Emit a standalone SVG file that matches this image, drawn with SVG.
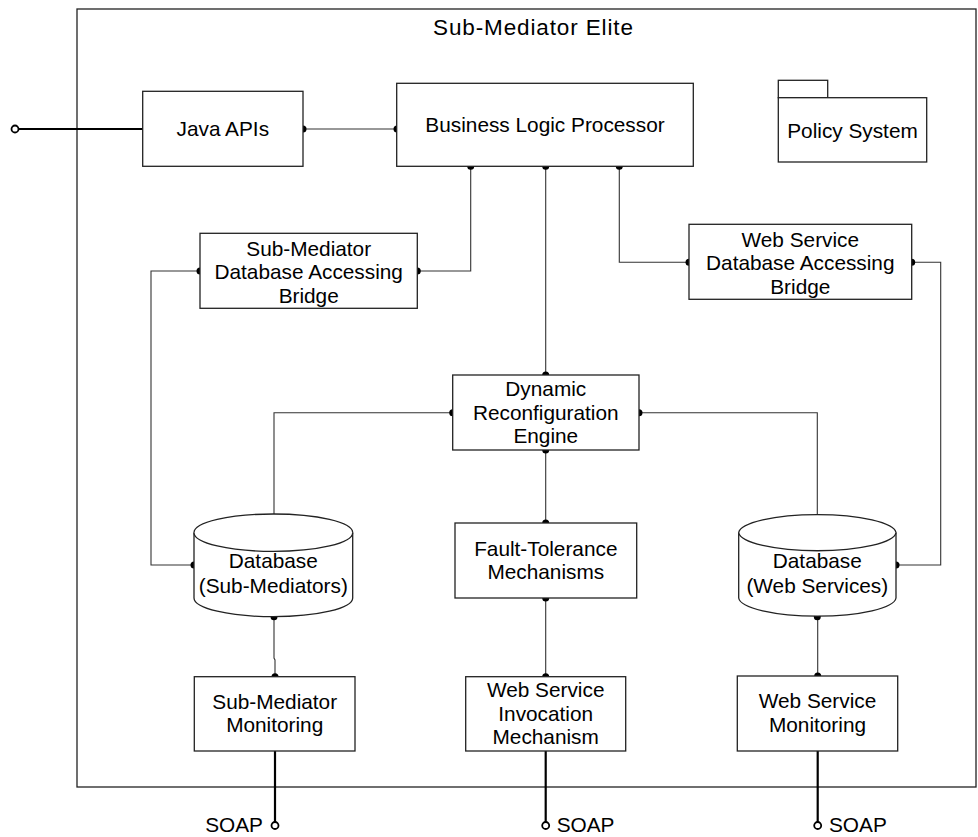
<svg xmlns="http://www.w3.org/2000/svg" width="978" height="837" viewBox="0 0 978 837">
<style>
  text { font-family: "Liberation Sans", Arial, sans-serif; font-size: 20.8px; fill: #000; text-anchor: middle; }
  .box { fill: #fff; stroke: #222; stroke-width: 1.3; }
  .frame { fill: none; stroke: #222; stroke-width: 1.3; }
  .wire { fill: none; stroke: #333; stroke-width: 1.1; }
  .port { fill: none; stroke: #000; stroke-width: 2.2; }
  .dot { fill: #000; }
  .pin { fill: #fff; stroke: #000; stroke-width: 1.8; }
</style>
<rect width="978" height="837" fill="#fff"/>
<g id="frame">
  <rect class="frame" x="77" y="9" width="899" height="778"/>
  <text x="533" y="34.5" style="font-size:22.5px" textLength="200" lengthAdjust="spacing">Sub-Mediator Elite</text>
</g>
<g id="connectors">
  <path class="port" d="M19 129 H143"/>
  <path class="wire" d="M303 129 H397"/>
  <path class="wire" d="M417.3 271 H470.7 V166.3"/>
  <path class="wire" d="M200 271 H151 V565 H194"/>
  <path class="wire" d="M619.3 166.3 V262.3 H689"/>
  <path class="wire" d="M911.7 262.3 H940.7 V565 H896"/>
  <path class="wire" d="M545.7 166.3 V375"/>
  <path class="wire" d="M452.7 412.7 H274 V532.7"/>
  <path class="wire" d="M639 412.7 H817.3 V532.7"/>
  <path class="wire" d="M545.7 450 V523"/>
  <path class="wire" d="M545.7 598 V676.7"/>
  <path class="wire" d="M274 616.7 V658 L275 660 V676.7"/>
  <path class="wire" d="M817.7 616.7 V676"/>
  <path class="port" d="M275 751 V822"/>
  <path class="port" d="M545.7 751 V822"/>
  <path class="port" d="M817.7 751 V822"/>
  <circle class="pin" cx="15" cy="129" r="3.5"/>
  <circle class="pin" cx="275" cy="825.5" r="3.5"/>
  <circle class="pin" cx="545.7" cy="825.5" r="3.5"/>
  <circle class="pin" cx="817.7" cy="825.5" r="3.5"/>
  <g class="dot">
    <circle cx="303" cy="129" r="3.5"/>
    <circle cx="397" cy="129" r="3.5"/>
    <circle cx="470.7" cy="166.3" r="3.5"/>
    <circle cx="545.7" cy="166.3" r="3.5"/>
    <circle cx="619.3" cy="166.3" r="3.5"/>
    <circle cx="200" cy="271" r="3.5"/>
    <circle cx="417.3" cy="271" r="3.5"/>
    <circle cx="689" cy="262.3" r="3.5"/>
    <circle cx="911.7" cy="262.3" r="3.5"/>
    <circle cx="545.7" cy="375" r="3.5"/>
    <circle cx="545.7" cy="450" r="3.5"/>
    <circle cx="452.7" cy="412.7" r="3.5"/>
    <circle cx="639" cy="412.7" r="3.5"/>
    <circle cx="274" cy="532.7" r="3.5"/>
    <circle cx="817.3" cy="532.7" r="3.5"/>
    <circle cx="194" cy="565" r="3.5"/>
    <circle cx="896" cy="565" r="3.5"/>
    <circle cx="545.7" cy="523" r="3.5"/>
    <circle cx="545.7" cy="598" r="3.5"/>
    <circle cx="274" cy="616.7" r="3.5"/>
    <circle cx="817.3" cy="616.7" r="3.5"/>
    <circle cx="275" cy="676.7" r="3.5"/>
    <circle cx="545.7" cy="676.7" r="3.5"/>
    <circle cx="817.7" cy="676" r="3.5"/>
  </g>
</g>
<g id="java-apis">
  <rect class="box" x="142.7" y="91.3" width="160.3" height="75"/>
  <text x="222.8" y="135.5">Java APIs</text>
</g>
<g id="business-logic-processor">
  <rect class="box" x="396.7" y="83.3" width="296.6" height="83"/>
  <text x="545" y="132">Business Logic Processor</text>
</g>
<g id="policy-system">
  <rect class="box" x="778.3" y="80.3" width="49.4" height="17.4"/>
  <rect class="box" x="778.3" y="97.7" width="148.4" height="64.3"/>
  <text x="852.5" y="138">Policy System</text>
</g>
<g id="sub-mediator-db-bridge">
  <rect class="box" x="200" y="233.3" width="217.3" height="75"/>
  <text x="308.7" y="255.7">Sub-Mediator</text>
  <text x="308.7" y="279.3">Database Accessing</text>
  <text x="308.7" y="302.7">Bridge</text>
</g>
<g id="web-service-db-bridge">
  <rect class="box" x="689" y="224.3" width="222.7" height="75"/>
  <text x="800.3" y="246.7">Web Service</text>
  <text x="800.3" y="270.3">Database Accessing</text>
  <text x="800.3" y="293.7">Bridge</text>
</g>
<g id="dynamic-reconfiguration-engine">
  <rect class="box" x="452.7" y="375" width="186.3" height="75"/>
  <text x="545.8" y="396">Dynamic</text>
  <text x="545.8" y="419.5">Reconfiguration</text>
  <text x="545.8" y="443">Engine</text>
</g>
<g id="fault-tolerance">
  <rect class="box" x="455" y="523" width="181.7" height="75"/>
  <text x="545.8" y="555.5">Fault-Tolerance</text>
  <text x="545.8" y="578.5">Mechanisms</text>
</g>
<g id="db-sub-mediators">
  <path class="box" d="M194 532.7 V598 A79.3 18.7 0 0 0 352.7 598 V532.7 A79.3 18.7 0 0 0 194 532.7 Z"/>
  <path class="box" fill="none" d="M194 532.7 A79.3 18.7 0 0 0 352.7 532.7"/>
  <text x="273.3" y="568.3">Database</text>
  <text x="273.3" y="593.3">(Sub-Mediators)</text>
</g>
<g id="db-web-services">
  <path class="box" d="M738.7 532.7 V598 A78.7 18.7 0 0 0 896 598 V532.7 A78.7 18.7 0 0 0 738.7 532.7 Z"/>
  <path class="box" fill="none" d="M738.7 532.7 A78.7 18.7 0 0 0 896 532.7"/>
  <text x="817.3" y="568.3">Database</text>
  <text x="817.3" y="593.3">(Web Services)</text>
</g>
<g id="sub-mediator-monitoring">
  <rect class="box" x="194.3" y="676.7" width="160.7" height="74.3"/>
  <text x="274.7" y="708.5">Sub-Mediator</text>
  <text x="274.7" y="731.7">Monitoring</text>
</g>
<g id="ws-invocation">
  <rect class="box" x="465.7" y="676.7" width="160" height="74.3"/>
  <text x="545.7" y="697">Web Service</text>
  <text x="545.7" y="720.5">Invocation</text>
  <text x="545.7" y="744">Mechanism</text>
</g>
<g id="ws-monitoring">
  <rect class="box" x="737.3" y="676" width="160.4" height="75"/>
  <text x="817.5" y="708">Web Service</text>
  <text x="817.5" y="731.7">Monitoring</text>
</g>
<g id="soap-labels">
  <text x="263" y="832" style="text-anchor:end">SOAP</text>
  <text x="556.7" y="832" style="text-anchor:start">SOAP</text>
  <text x="829" y="832" style="text-anchor:start">SOAP</text>
</g>
</svg>
